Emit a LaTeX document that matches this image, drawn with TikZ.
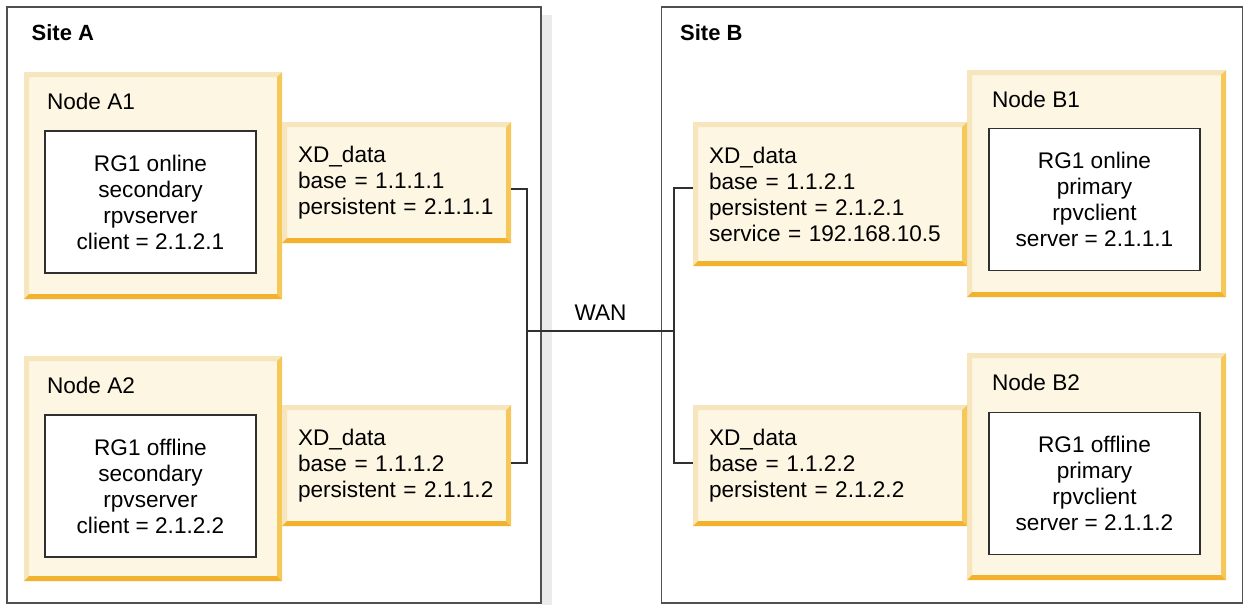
\documentclass[tikz,border=0pt]{standalone}
\usepackage{fontspec}
\setmainfont{Liberation Sans}
\usetikzlibrary{positioning}

\definecolor{boxfill}{HTML}{FDF6E3}
\definecolor{bevlight}{HTML}{F7E6BD}
\definecolor{bevright}{HTML}{F6C85A}
\definecolor{bevbottom}{HTML}{F2B22E}
\definecolor{framegray}{HTML}{505050}
\definecolor{shadowgray}{HTML}{EBEBEB}
\definecolor{linedark}{HTML}{303030}

\newcommand\ppbb{path picture bounding box}

\begin{document}
\begin{tikzpicture}[
    x=0.5pt, y=-0.5pt, % one unit = one pixel of the reference
    % Styles
    site/.style={ % Site frame
        rectangle,
        draw=framegray,
        line width=0.7pt,
        fill=white
    },
    sitelbl/.style={ % Site title
        font=\fontsize{11}{13}\selectfont\bfseries,
        inner sep=0pt
    },
    bevel/.style={ % Raised yellow box
        rectangle,
        fill=boxfill,
        inner sep=0pt,
        path picture={
            \fill[bevlight] (\ppbb.north west) -- (\ppbb.north east)
                -- ++(-2.5pt,-2.5pt) -- ([shift={(2.5pt,-2.5pt)}]\ppbb.north west) -- cycle;
            \fill[bevlight] (\ppbb.north west) -- (\ppbb.south west)
                -- ++(2.5pt,2.5pt) -- ([shift={(2.5pt,-2.5pt)}]\ppbb.north west) -- cycle;
            \fill[bevright] (\ppbb.north east) -- (\ppbb.south east)
                -- ++(-2.5pt,2.5pt) -- ([shift={(-2.5pt,-2.5pt)}]\ppbb.north east) -- cycle;
            \fill[bevbottom] (\ppbb.south west) -- (\ppbb.south east)
                -- ++(-2.5pt,2.5pt) -- ([shift={(2.5pt,2.5pt)}]\ppbb.south west) -- cycle;
        }
    },
    host/.style={ % Cluster node
        bevel,
        minimum width=129pt,
        minimum height=113.5pt
    },
    xd/.style={ % XD_data box
        bevel,
        font=\fontsize{11.3}{13}\selectfont,
        align=left,
        inner xsep=8pt,
        minimum height=60.5pt
    },
    rg/.style={ % Resource group box
        rectangle,
        draw=linedark,
        line width=0.7pt,
        fill=white,
        align=center,
        font=\fontsize{11.3}{13}\selectfont,
        minimum width=105.5pt,
        minimum height=71pt
    },
    hostlbl/.style={ % Node title
        font=\fontsize{11.3}{13}\selectfont,
        inner sep=0pt
    },
    link/.style={ % Network lines
        draw=linedark,
        line width=1pt
    }
]

    \useasboundingbox (0,0) rectangle (1244,605);

    % Sites
    \fill [shadowgray] (542,15) rectangle (552,605);
    \node [site, minimum width=267pt, minimum height=298pt] (siteA) at (274,305) {};
    \node [site, minimum width=290.5pt, minimum height=298pt] (siteB) at (952,305) {};
    \node [sitelbl, below right=9pt and 12.5pt of siteA.north west] (siteAlbl) {Site A};
    \node [sitelbl, below right=9pt and 9.5pt of siteB.north west] (siteBlbl) {Site B};

    % Site A
    \node [host] (hostA1) at (153,185.5) {};
    \node [host, minimum height=112.5pt] (hostA2) at (153,468.5) {};
    \node [hostlbl, below right=10.5pt and 11.5pt of hostA1.north west] (hostA1lbl) {Node A1};
    \node [hostlbl, below right=10.5pt and 11.5pt of hostA2.north west] (hostA2lbl) {Node A2};
    \node [rg] (rgA1) at (150.5,202) {RG1 online\\secondary\\rpvserver\\client = 2.1.2.1};
    \node [rg] (rgA2) at (150.5,486) {RG1 offline\\secondary\\rpvserver\\client = 2.1.2.2};
    \node [xd, text width=98.5pt] (xdA1) at (396.5,182.5) {XD\_data\\base = 1.1.1.1\\persistent = 2.1.1.1};
    \node [xd, text width=98.5pt] (xdA2) at (396.5,465.5) {XD\_data\\base = 1.1.1.2\\persistent = 2.1.1.2};

    % Site B
    \node [host, minimum width=129.5pt] (hostB1) at (1096.5,183.5) {};
    \node [host, minimum width=129.5pt] (hostB2) at (1096.5,466.5) {};
    \node [hostlbl, below right=10.5pt and 12.5pt of hostB1.north west] (hostB1lbl) {Node B1};
    \node [hostlbl, below right=10.5pt and 12.5pt of hostB2.north west] (hostB2lbl) {Node B2};
    \node [rg] (rgB1) at (1094.5,199.5) {RG1 online\\primary\\rpvclient\\server = 2.1.1.1};
    \node [rg] (rgB2) at (1094.5,483.5) {RG1 offline\\primary\\rpvclient\\server = 2.1.1.2};
    \node [xd, text width=121pt, minimum height=72pt] (xdB1) at (830,194) {XD\_data\\base = 1.1.2.1\\persistent = 2.1.2.1\\service = 192.168.10.5};
    \node [xd, text width=121pt] (xdB2) at (830,465.5) {XD\_data\\base = 1.1.2.2\\persistent = 2.1.2.2};

    % WAN links
    \coordinate (wanL) at (527,331);
    \coordinate (wanR) at (674,331);
    \draw [link] ([yshift=-3.25pt]xdA1.east) -| (wanL) |- ([yshift=1.25pt]xdA2.east);
    \draw [link] ([yshift=3pt]xdB1.west) -| (wanR) |- ([yshift=1.25pt]xdB2.west);
    \draw [link] (wanL) -- node[above=1.2pt, font=\fontsize{11.3}{13}\selectfont] (wan) {WAN} (wanR);
\end{tikzpicture}
\end{document}
